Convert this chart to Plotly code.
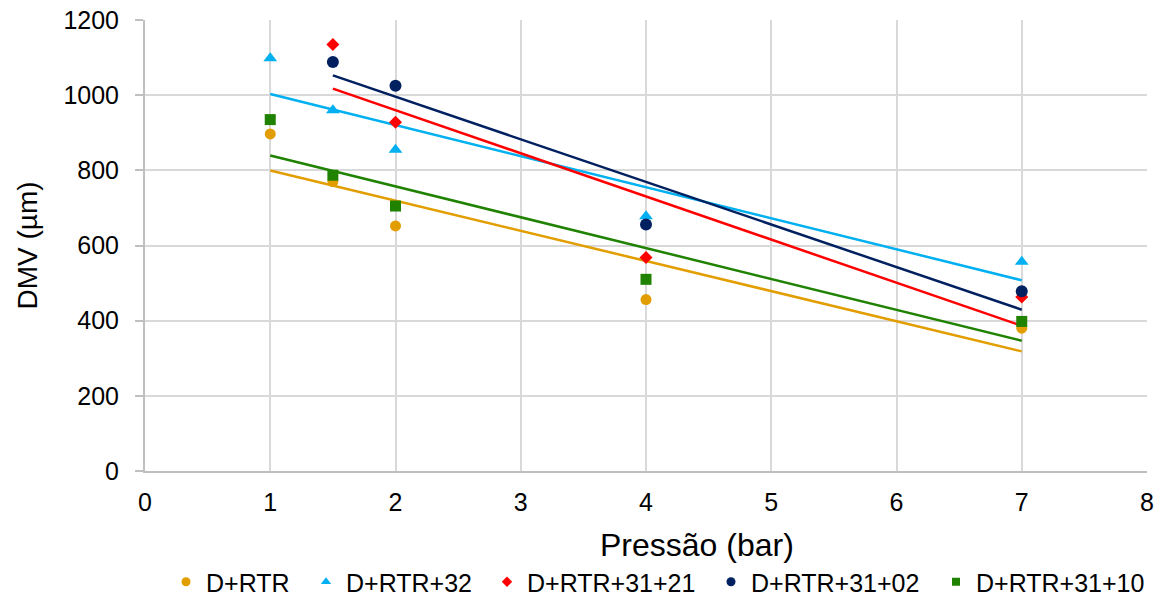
import numpy as np
import plotly.graph_objects as go

# Data
series_names = ["D+RTR", "D+RTR+32", "D+RTR+31+21", "D+RTR+31+02", "D+RTR+31+10"]
x_d_rtr = [1, 1.5, 2, 4, 7]
y_d_rtr = [897, 770, 652, 456, 380]
x_d_rtr_32 = [1, 1.5, 2, 4, 7]
y_d_rtr_32 = [1098, 960, 855, 678, 557]
x_d_rtr_31_21 = [1.5, 2, 4, 7]
y_d_rtr_31_21 = [1135, 928, 568, 463]
x_d_rtr_31_02 = [1.5, 2, 4, 7]
y_d_rtr_31_02 = [1088, 1025, 656, 478]
x_d_rtr_31_10 = [1, 1.5, 2, 4, 7]
y_d_rtr_31_10 = [935, 787, 705, 510, 398]

xs = [x_d_rtr, x_d_rtr_32, x_d_rtr_31_21, x_d_rtr_31_02, x_d_rtr_31_10]
ys = [y_d_rtr, y_d_rtr_32, y_d_rtr_31_21, y_d_rtr_31_02, y_d_rtr_31_10]
colors = ["#E29E00", "#00B0F0", "#FF0000", "#002060", "#1F8200"]
symbols = ["circle", "triangle-up", "diamond", "circle", "square"]
sizes = [11, 12, 10, 12, 11]
legend_sizes = [9, 9, 8, 9, 8]
# legend entry left edges (px from left of figure)
legend_left_px = [166, 306, 487, 711, 936]

font_family = "Liberation Sans, Arial, sans-serif"
L, R, T, B = 145, 17, 20, 127
W, H = 1164, 598
pw, ph = W - L - R, H - T - B

fig = go.Figure()

# Trend lines (linear fit of each series)
for x, y, c in zip(xs, ys, colors):
    k, b = np.polyfit(x, y, 1)
    xl = [min(x), max(x)]
    fig.add_trace(go.Scatter(
        x=xl, y=[k * v + b for v in xl], mode="lines",
        line=dict(color=c, width=2.5), showlegend=False, hoverinfo="skip"))

for x, y, c, s, sz, name in zip(xs, ys, colors, symbols, sizes, series_names):
    fig.add_trace(go.Scatter(
        x=x, y=y, mode="markers", name=name, showlegend=False,
        marker=dict(color=c, symbol=s, size=sz, line=dict(width=0))))

legend_layouts = {}
for i, (c, s, lsz, name, lp) in enumerate(zip(colors, symbols, legend_sizes, series_names, legend_left_px)):
    lg = "legend" if i == 0 else f"legend{i+1}"
    fig.add_trace(go.Scatter(
        x=[None], y=[None], mode="markers", name=name, showlegend=True, legend=lg,
        marker=dict(color=c, symbol=s, size=lsz, line=dict(width=0))))
    legend_layouts[lg] = dict(orientation="h", x=(lp - L) / pw, xanchor="left",
                              y=-(582 - (H - B)) / ph, yanchor="middle",
                              font=dict(size=25, family=font_family, color="black"),
                              itemwidth=30, bgcolor="rgba(0,0,0,0)")

fig.update_layout(
    width=W, height=H,
    margin=dict(l=L, r=R, t=T, b=B, autoexpand=False),
    plot_bgcolor="white", paper_bgcolor="white",
    font=dict(family=font_family, size=25, color="black"),
    showlegend=True,
    xaxis=dict(range=[0, 8], dtick=1, showgrid=True, gridcolor="#D9D9D9", gridwidth=2,
               showline=True, linecolor="#BFBFBF", linewidth=2, zeroline=False,
               ticks="", tickfont=dict(size=25), ticklabelstandoff=8),
    yaxis=dict(range=[0, 1200], dtick=200, showgrid=True, gridcolor="#D9D9D9", gridwidth=2,
               showline=True, linecolor="#BFBFBF", linewidth=2, zeroline=False,
               ticks="outside", ticklen=8, tickcolor="#BFBFBF", tickwidth=2,
               tickfont=dict(size=25), ticklabelstandoff=11),
    annotations=[
        dict(text="Pressão (bar)", xref="paper", yref="paper",
             x=(697 - L) / pw, y=-(545 - (H - B)) / ph, xanchor="center", yanchor="middle",
             showarrow=False, font=dict(size=32, family=font_family, color="black")),
        dict(text="DMV (µm)", xref="paper", yref="paper", textangle=-90,
             x=(27 - L) / pw, y=0.5, xanchor="center", yanchor="middle",
             showarrow=False, font=dict(size=28, family=font_family, color="black")),
    ],
    **legend_layouts,
)

fig.write_html("out.html")
